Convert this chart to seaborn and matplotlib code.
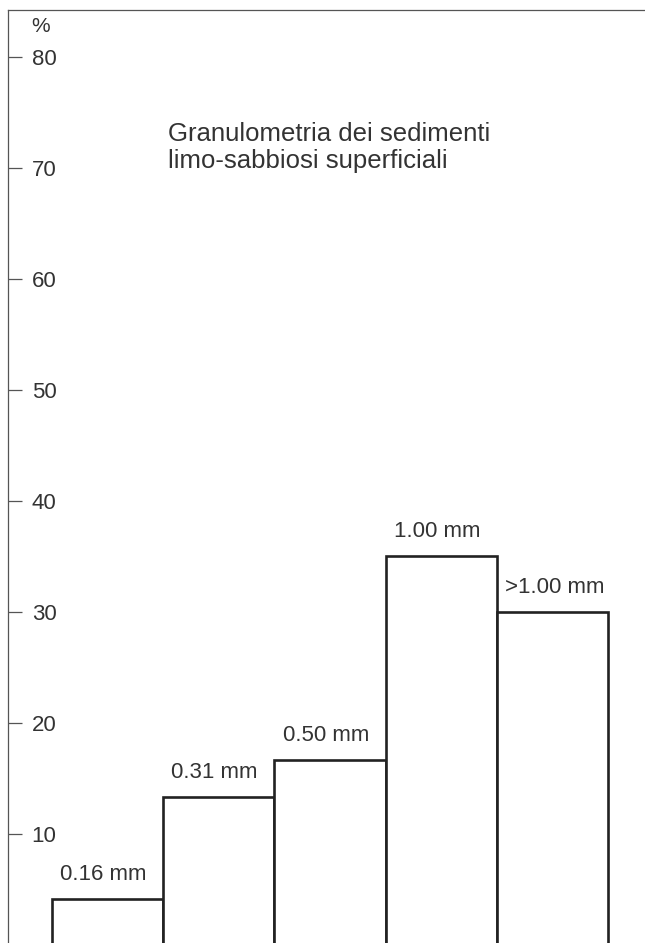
import matplotlib
matplotlib.use("Agg")
import matplotlib.pyplot as plt
import seaborn as sns
import pandas as pd

sizes = ["0.16 mm", "0.31 mm", "0.50 mm", "1.00 mm", ">1.00 mm"]
percent = [4.1, 13.3, 16.7, 35.0, 30.0]
yticks = [10, 20, 30, 40, 50, 60, 70, 80]
ytick_labels = ["10", "20", "30", "40", "50", "60", "70", "80"]
title_lines = ["Granulometria dei sedimenti", "limo-sabbiosi superficiali"]
unit_label = "%"

sns.set_theme(style="white")
plt.rcParams["font.family"] = ["Liberation Sans", "DejaVu Sans"]

W, H = 645, 943
fig = plt.figure(figsize=(W / 100, H / 100), dpi=100)
fig.patch.set_facecolor("white")
ax = fig.add_axes([8 / W, 0, 1 - 8 / W, 1 - 10 / H])
ax.set_facecolor("white")

df = pd.DataFrame({"size": sizes, "pct": percent})
sns.barplot(data=df, x="size", y="pct", color="white", edgecolor="#222222",
            linewidth=1.9, width=1.0, saturation=1, ax=ax, order=sizes)

ax.set_xlim(-0.894, 4.83)
ax.set_ylim(0.18, 84.23)
ax.set_xticks([])
ax.set_xlabel("")
ax.set_ylabel("")

for s in ["right", "bottom"]:
    ax.spines[s].set_visible(False)
for s in ["left", "top"]:
    ax.spines[s].set_visible(True)
    ax.spines[s].set_color("#555555")
    ax.spines[s].set_linewidth(0.9)

ax.set_yticks(yticks)
ax.set_yticklabels(ytick_labels)
ax.tick_params(axis="y", direction="in", length=10, width=0.9, color="#555555",
               pad=-17, labelsize=16, labelcolor="#333333", left=True)
for lab in ax.get_yticklabels():
    lab.set_ha("left")

# bar labels, left-aligned above each bar
for i, (lab, v) in enumerate(zip(sizes, percent)):
    ax.annotate(lab, xy=(i - 0.5, v), xytext=(6.0, 13.7), textcoords="offset points",
                ha="left", va="baseline", fontsize=16, color="#333333")

# unit label
ax.text(23 / (W - 8), 1 - 22 / (H - 10), unit_label, transform=ax.transAxes,
        ha="left", va="baseline", fontsize=15, color="#333333")

# title (baseline of last line)
ax.text((168 - 8) / (W - 8), 1 - (168 - 10) / (H - 10), title_lines[0] + "\n" + title_lines[1],
        transform=ax.transAxes, ha="left", va="baseline", fontsize=18.5,
        color="#333333", linespacing=1.18)

fig.savefig("out.png", dpi=100, facecolor="white")
